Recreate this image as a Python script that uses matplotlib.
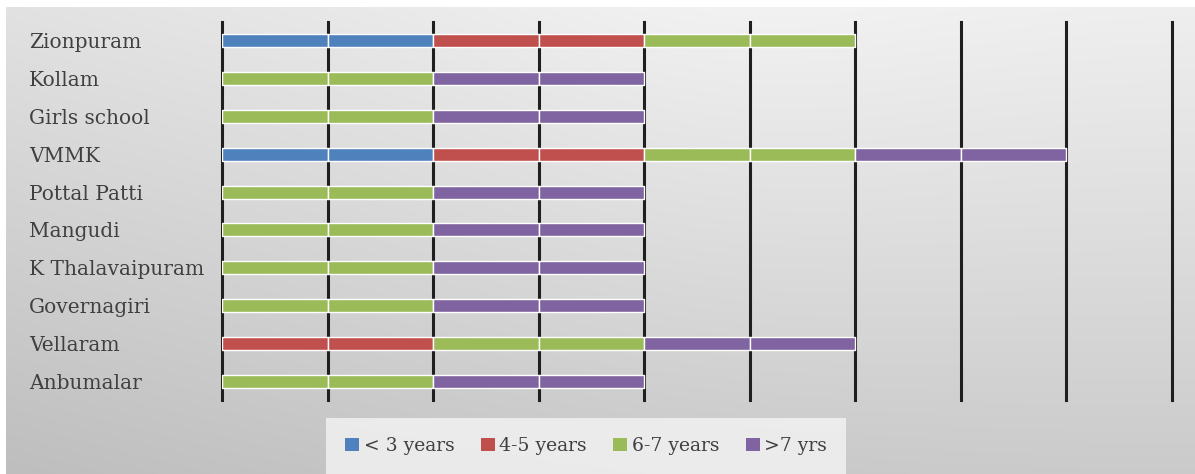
import numpy as np
import matplotlib.pyplot as plt
from matplotlib.patches import Patch

# schools and the number of years spent in each age band
schools = ['Zionpuram', 'Kollam', 'Girls school', 'VMMK', 'Pottal Patti',
           'Mangudi', 'K Thalavaipuram', 'Governagiri', 'Vellaram', 'Anbumalar']
under_3 = [2, 0, 0, 2, 0, 0, 0, 0, 0, 0]
yrs_4_5 = [2, 0, 0, 2, 0, 0, 0, 0, 2, 0]
yrs_6_7 = [2, 2, 2, 2, 2, 2, 2, 2, 2, 2]
over_7 = [0, 2, 2, 2, 2, 2, 2, 2, 2, 2]

groups = ['< 3 years', '4-5 years', '6-7 years', '>7 yrs']
colors = ['#4F81BD', '#C0504D', '#9BBB59', '#8064A2']
series = [under_3, yrs_4_5, yrs_6_7, over_7]

plt.rcParams['font.family'] = ['DejaVu Serif']

fig = plt.figure(figsize=(11.95, 4.74), dpi=100)
fig.patch.set_facecolor('white')

# grey gradient panel behind the chart
bg = fig.add_axes([6 / 1195, 0, 1 - 6 / 1195, 1 - 7 / 474])
h, w = 200, 400
yy, xx = np.mgrid[0:1:h * 1j, 0:1:w * 1j]
shade = 0.935 - 0.14 * yy - 0.05 * (1 - xx) ** 2 + 0.02 * np.exp(-((xx - 0.6) ** 2) / 0.05) * (1 - yy)
bg.imshow(np.dstack([shade] * 3), aspect='auto', extent=[0, 1, 0, 1], origin='upper')
bg.axis('off')

ax = fig.add_axes([222 / 1195, 1 - 400 / 474, (1172 - 222) / 1195, (400 - 22) / 474])
ax.set_facecolor('none')

y = np.arange(len(schools))
left = np.zeros(len(schools))
for vals, col in zip(series, colors):
    vals = np.array(vals, dtype=float)
    # each year is its own segment, separated by a thin white edge
    for k in range(int(vals.max())):
        seg = np.clip(vals - k, 0, 1)
        keep = seg > 0
        ax.barh(y[keep], seg[keep], left=(left + k)[keep], height=0.34, color=col,
                edgecolor='white', linewidth=1.0, zorder=3)
    left += vals

for x in range(10):
    ax.axvline(x, color='#1f1f1f', linewidth=2.2, zorder=2, clip_on=False)

ax.set_xlim(0, 9)
ax.set_ylim(len(schools) - 0.5, -0.5)
ax.set_yticks(y)
ax.set_yticklabels(schools, fontsize=14.5, color='#404040')
ax.tick_params(axis='y', length=0, pad=2)
for lab in ax.get_yticklabels():
    lab.set_horizontalalignment('left')
    lab.set_x(-(222 - 32) / 950)
ax.set_xticks([])
for s in ax.spines.values():
    s.set_visible(False)

handles = [Patch(facecolor=c, edgecolor='none') for c in colors]
leg = fig.legend(handles, groups, loc='center', bbox_to_anchor=(586 / 1195, 1 - 446 / 474),
                 ncol=4, frameon=True, fontsize=13.5, handlelength=0.75, handleheight=0.75,
                 handletextpad=0.25, columnspacing=1.4, borderpad=1.0)
leg.get_frame().set_facecolor('#f4f4f4')
leg.get_frame().set_edgecolor('none')
leg.get_frame().set_boxstyle('square', pad=0)
for t in leg.get_texts():
    t.set_color('#404040')

fig.savefig('out.png', dpi=100)
